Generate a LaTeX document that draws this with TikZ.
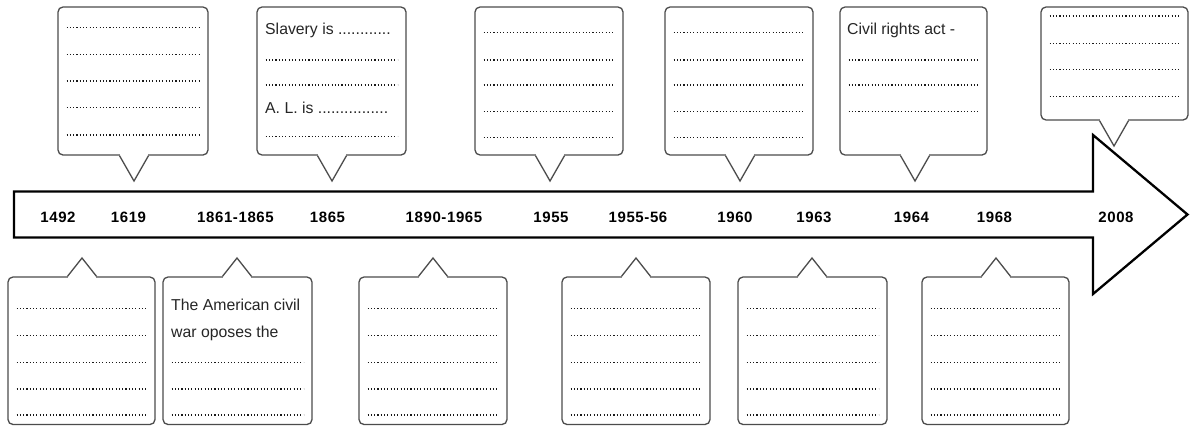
\documentclass[tikz,border=0pt]{standalone}
\usepackage{fontspec}
\setmainfont{Liberation Sans}
\newfontfamily\datefont[LetterSpace=4]{Liberation Sans}
\newcommand\downcallout[6]{% name, x1, x2, y1, y2, tip x (tip below)
  \node[bubble, minimum width={#3-#2}, minimum height={#5-#4}] (#1) at ({(#2+#3)/2},{(#4+#5)/2}) {};
  \fill[white] ({#6-13.8},{#5-1.6}) rectangle ({#6+13.8},{#5+1.6});
  \draw[pointer] ({#6-14.5},0 |- #1.south) -- (#6,{#5+26}) -- ({#6+14.5},0 |- #1.south);
}
\newcommand\upcallout[6]{% name, x1, x2, y1, y2, tip x (tip above)
  \node[bubble, minimum width={#3-#2}, minimum height={#5-#4}] (#1) at ({(#2+#3)/2},{(#4+#5)/2}) {};
  \fill[white] ({#6-13.8},{#4-1.6}) rectangle ({#6+13.8},{#4+1.6});
  \draw[pointer] ({#6-14.5},0 |- #1.north) -- (#6,{#4-19}) -- ({#6+14.5},0 |- #1.north);
}
\newcommand\dotrows[3]{% x1, x2, list of y
  \foreach \yy in {#3} \draw[dotrow] ({#1+8.5},\yy) -- ({#2-8.5},\yy);
}
\begin{document}
\begin{tikzpicture}[x=1pt,y=-1pt,
  arrowline/.style={draw=black, line width=2.3pt, line join=miter, fill=white},
  bubble/.style={draw=black!70, line width=1.3pt, rounded corners=5pt, fill=white, inner sep=0pt, shape=rectangle},
  pointer/.style={draw=black!70, line width=1.3pt, line join=miter},
  dotrow/.style={draw=black!90, line width=1.15pt, dash pattern=on 1.1pt off 2.2pt},
  datelabel/.style={font=\fontsize{15}{15}\selectfont\datefont\bfseries, inner sep=0pt, anchor=base, text=black},
  boxtext/.style={font=\fontsize{15.8}{16}\selectfont, inner sep=0pt, anchor=base west, text=black!85}]
\useasboundingbox (0,0) rectangle (1190,426);
\fill[white] (0,0) rectangle (1190,426);

% timeline arrow
\draw[arrowline] (14,191.5) -- (1093,191.5) -- (1093,135) -- (1187.5,214.5)
  -- (1093,294) -- (1093,237.5) -- (14,237.5) -- cycle;

% dates
\node[datelabel] (d1492) at (58,222) {1492};
\node[datelabel] (d1619) at (128.5,222) {1619};
\node[datelabel] (d1861) at (235.5,222) {1861-1865};
\node[datelabel] (d1865) at (327.5,222) {1865};
\node[datelabel] (d1890) at (444,222) {1890-1965};
\node[datelabel] (d1955) at (551,222) {1955};
\node[datelabel] (d1955b) at (638,222) {1955-56};
\node[datelabel] (d1960) at (735,222) {1960};
\node[datelabel] (d1963) at (814,222) {1963};
\node[datelabel] (d1964) at (911.5,222) {1964};
\node[datelabel] (d1968) at (994.5,222) {1968};
\node[datelabel] (d2008) at (1116,222) {2008};

% top callouts
\downcallout{t1}{58}{208}{7}{155}{134}
\dotrows{58}{208}{27.7,54.3,81,107.7,135}

\downcallout{t2}{257}{406}{7}{155}{332}
\node[boxtext] (t2a) at (265,34) {Slavery is ............};
\node[boxtext] (t2b) at (265,113) {A. L. is ................};
\dotrows{257}{406}{60,85,136.7}

\downcallout{t3}{475}{623}{7}{155}{550}
\dotrows{475}{623}{32.7,60,85,111.7,137.3}

\downcallout{t4}{665}{813}{7}{155}{740}
\dotrows{665}{813}{32.7,60,85,111.7,137.3}

\downcallout{t5}{840}{987}{7}{155}{915}
\node[boxtext] (t5a) at (847,34) {Civil rights act -};
\dotrows{840}{987}{60,85,111.7}

\node[bubble, minimum width=147, minimum height=113] (t6) at (1114.5,63.5) {};
\fill[white] (1100.2,118.4) rectangle (1127.8,121.6);
\draw[pointer] (1099.5,0 |- t6.south) -- (1114,146) -- (1128.5,0 |- t6.south);
\dotrows{1041}{1188}{16,43.3,69.3,96.7}

% bottom callouts
\upcallout{b1}{8}{155}{277}{424.5}{82}
\dotrows{8}{155}{308.3,335.7,362.7,389,415}

\upcallout{b2}{163}{312}{277}{424.5}{237}
\node[boxtext] (b2a) at (171,310.7) {The American civil};
\node[boxtext] (b2b) at (171,337.5) {war oposes the};
\dotrows{163}{312}{362.7,389,415}

\upcallout{b3}{359}{507}{277}{424.5}{433}
\dotrows{359}{507}{308.3,335.7,362.7,389,415}

\upcallout{b4}{562}{710}{277}{424.5}{636}
\dotrows{562}{710}{308.3,335.7,362.7,389,415}

\upcallout{b5}{738}{887}{277}{424.5}{812}
\dotrows{738}{887}{308.3,335.7,362.7,389,415}

\upcallout{b6}{922}{1069}{277}{424.5}{996}
\dotrows{922}{1069}{308.3,335.7,362.7,389,415}
\end{tikzpicture}
\end{document}
